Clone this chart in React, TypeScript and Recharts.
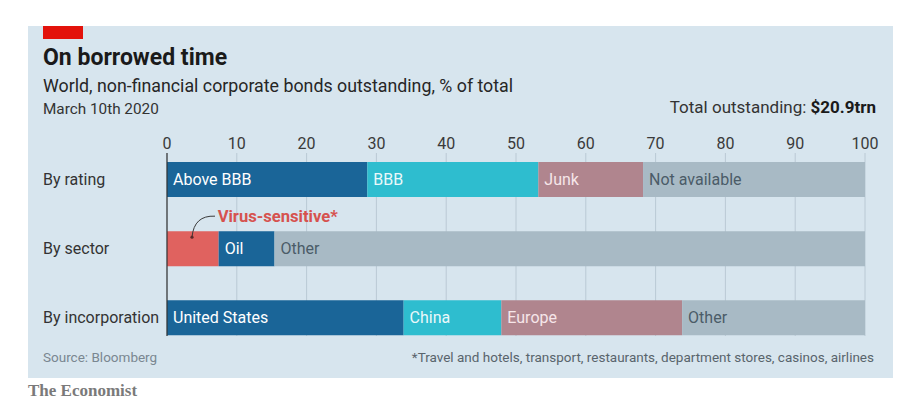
import { BarChart, Bar, XAxis, YAxis, CartesianGrid, Cell, LabelList, ReferenceLine } from "recharts";

const categories = ["By rating", "By sector", "By incorporation"];
const ratingValues = [28.7, 24.5, 15.0, 31.8];
const sectorValues = [7.4, 8.0, 84.6];
const incorporationValues = [33.9, 14.0, 25.9, 26.2];
const ratingLabels = ["Above BBB", "BBB", "Junk", "Not available"];
const sectorLabels = ["", "Oil", "Other"];
const incorporationLabels = ["United States", "China", "Europe", "Other"];
const xTicks = [0, 10, 20, 30, 40, 50, 60, 70, 80, 90, 100];

const DARK = "#1a6598";
const CYAN = "#2ebdcf";
const MAUVE = "#b0858e";
const GREY = "#a8bac5";
const RED = "#e0625f";
const FONT = "Roboto, sans-serif";

const segKeys = ["s0", "s1", "s2", "s3"];
const rowValues = [ratingValues, sectorValues, incorporationValues];
const rowLabels = [ratingLabels, sectorLabels, incorporationLabels];
const rowColors = [
    [DARK, CYAN, MAUVE, GREY],
    [RED, DARK, GREY],
    [DARK, CYAN, MAUVE, GREY],
];
// text colour inside a segment depends on its fill
const textOnFill: Record<string, string> = {
    [DARK]: "#ffffff",
    [CYAN]: "#eaf8fa",
    [MAUVE]: "#f6e6e9",
    [GREY]: "#4b5c68",
    [RED]: "#ffffff",
};

const data = categories.map((category, r) => {
    const row: Record<string, string | number> = { category };
    segKeys.forEach((k, i) => {
        row[k] = rowValues[r][i] ?? 0;
        row["l" + i] = (rowLabels[r][i] ?? "") + "|" + (rowColors[r][i] ?? GREY);
    });
    return row;
});

const LEFT = 43;
const GRID_TOP = 153;
const GRID_H = 183;

function SegmentLabel(props: any) {
    const { x, y, width, height, value } = props;
    const [text, fill] = String(value ?? "").split("|");
    if (!text || !width) return null;
    return (
        <text x={x + 6} y={y + height / 2} dy={5.5} fill={textOnFill[fill] ?? "#fff"}
            fontSize={16} fontFamily={FONT}>
            {text}
        </text>
    );
}

function VirusNote(props: any) {
    const { x, y, width, index } = props;
    if (index !== 1) return null;
    return (
        <g>
            <path d={`M${x + 48},${y - 15} Q${x + 27},${y - 16} ${x + 25},${y + 6}`}
                fill="none" stroke="#3a3a3a" strokeWidth={1} />
            <circle cx={x + 25} cy={y + 6} r={1.6} fill="#5a2a2a" />
            <text x={x + width - 1} y={y - 9} fill="#d6524e" fontSize={16.6}
                fontWeight={700} fontFamily={FONT}>
                Virus-sensitive*
            </text>
        </g>
    );
}

function App() {
    return (
        <div style={{ position: "fixed", left: 0, top: 0, width: 900, height: 399, background: "#fff" }}>
            <svg width={900} height={399} style={{ position: "absolute", left: 0, top: 0 }}>
                <rect x={28} y={26} width={865} height={352} fill="#d7e5ee" />
                <rect x={43} y={26} width={40} height={13} fill="#e3120b" />
                <text x={43} y={65} fontFamily={FONT} fontWeight={700} fontSize={23} fill="#1a1a1a">
                    On borrowed time
                </text>
                <text x={43} y={92} fontFamily={FONT} fontSize={17.8} fill="#262626">
                    World, non-financial corporate bonds outstanding, % of total
                </text>
                <text x={43} y={114} fontFamily={FONT} fontSize={15.3} fill="#333">
                    March 10th 2020
                </text>
                <text x={876} y={113} textAnchor="end" fontFamily={FONT} fontSize={17} fill="#333">
                    Total outstanding: <tspan fontWeight={700} fill="#1a1a1a">$20.9trn</tspan>
                </text>
                <text x={43} y={362} fontFamily={FONT} fontSize={13.5} fill="#7a8791">
                    Source: Bloomberg
                </text>
                <text x={874} y={362} textAnchor="end" fontFamily={FONT} fontSize={13.5} fill="#59646c">
                    *Travel and hotels, transport, restaurants, department stores, casinos, airlines
                </text>
                <text x={28} y={396} fontFamily="'Liberation Serif', serif" fontSize={17}
                    fontWeight={700} fill="#7a7a7a">
                    The Economist
                </text>
            </svg>
            <div style={{ position: "absolute", left: 0, top: 0 }}>
                <BarChart layout="vertical" width={900} height={399} data={data} barSize={35}
                    margin={{ top: 115, right: 35, bottom: 46.5, left: LEFT }}>
                    <CartesianGrid horizontal={false} stroke="#bac9d4" y={GRID_TOP} height={GRID_H} />
                    <XAxis type="number" orientation="top" domain={[0, 100]} ticks={xTicks}
                        height={30} axisLine={false} tickLine={false} tickSize={0} tickMargin={0}
                        interval={0}
                        tick={(p: any) => (
                            <text x={p.x} y={p.y} dy={3.5} textAnchor="middle" fontSize={16}
                                fontFamily={FONT} fill="#3a3a3a">
                                {p.payload.value}
                            </text>
                        )} />
                    <YAxis type="category" dataKey="category" width={124} axisLine={false}
                        tickLine={false}
                        tick={(p: any) => (
                            <text x={LEFT} y={p.y} dy={5.5} textAnchor="start" fontSize={16}
                                fontFamily={FONT} fill="#333">
                                {p.payload.value}
                            </text>
                        )} />
                    {segKeys.map((k, seg) => (
                        <Bar key={k} dataKey={k} stackId="a" isAnimationActive={false}>
                            {data.map((_, r) => (
                                <Cell key={r} fill={rowColors[r][seg] ?? GREY} />
                            ))}
                            <LabelList dataKey={"l" + seg} content={SegmentLabel} />
                            {seg === 0 && <LabelList dataKey={k} content={VirusNote} />}
                        </Bar>
                    ))}
                    <ReferenceLine x={0} stroke="#333" strokeWidth={1.2}
                        shape={(p: any) => (
                            <line x1={p.x1} x2={p.x2} y1={GRID_TOP} y2={GRID_TOP + GRID_H}
                                stroke="#333" strokeWidth={1.2} />
                        )} />
                </BarChart>
            </div>
        </div>
    );
}

export default App;
